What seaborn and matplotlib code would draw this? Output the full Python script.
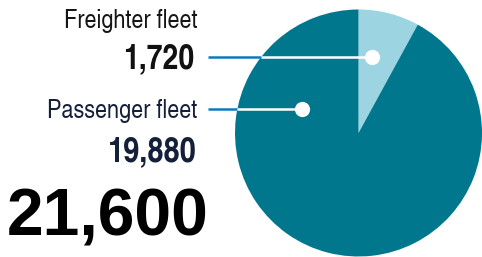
import numpy as np
import matplotlib
matplotlib.use("Agg")
import matplotlib.pyplot as plt
import seaborn as sns
from matplotlib import font_manager

labels = ["Freighter fleet", "Passenger fleet"]
values = [1720, 19880]
value_text = ["1,720", "19,880"]
total_text = "21,600"
colors = ["#9dd4e2", "#01778e"]

sns.set_theme(style="white")


def find_family(fragment, default):
    for f in font_manager.fontManager.ttflist:
        if fragment in f.fname.lower():
            return f.name
    return default


cond = find_family("texgyreheroscn", "Liberation Sans")
plt.rcParams['font.family'] = ["Liberation Sans", 'DejaVu Sans']

W, H = 482, 257
fig = plt.figure(figsize=(W / 100, H / 100), dpi=100)
fig.patch.set_facecolor("white")

cx, cy, r = 358.5, 133.0, 123.5
ax = fig.add_axes([(cx - r) / W, (H - cy - r) / H, 2 * r / W, 2 * r / H])
ax.pie(values, colors=colors, startangle=90, counterclock=False, radius=1,
       wedgeprops=dict(linewidth=0))
ax.set_xlim(-1, 1)
ax.set_ylim(-1, 1)
ax.set_aspect("auto")
ax.axis("off")

ov = fig.add_axes([0, 0, 1, 1], facecolor="none")
ov.set_xlim(0, W)
ov.set_ylim(H, 0)
ov.axis("off")

blue = "#0a7bc0"
navy = "#14203a"
leaders = [(57, 208, 372), (109, 208, 302)]
for y, x0, xd in leaders:
    xe = cx - np.sqrt(r ** 2 - (cy - y) ** 2)
    ov.plot([x0, xe], [y, y], color=blue, lw=1.8, solid_capstyle="butt")
    ov.plot([xe, xd], [y, y], color="white", lw=1.8, solid_capstyle="butt")
    ov.scatter([xd], [y], s=120, color="white", zorder=5, linewidths=0)

cf = [cond, "DejaVu Sans"]
ov.text(197, 28, labels[0], ha="right", va="baseline", fontsize=19, color="#151515", family=cf)
ov.text(194, 68, value_text[0], ha="right", va="baseline", fontsize=25, fontweight="bold", color="#111111", family=cf)
ov.text(197, 118, labels[1], ha="right", va="baseline", fontsize=19, color=navy, family=cf)
ov.text(197, 161, value_text[1], ha="right", va="baseline", fontsize=25.5, fontweight="bold", color=navy, family=cf)
ov.text(7, 236, total_text, ha="left", va="baseline", fontsize=47.5, fontweight="bold", color="#000000")

fig.savefig("out.png", dpi=100, facecolor="white")
